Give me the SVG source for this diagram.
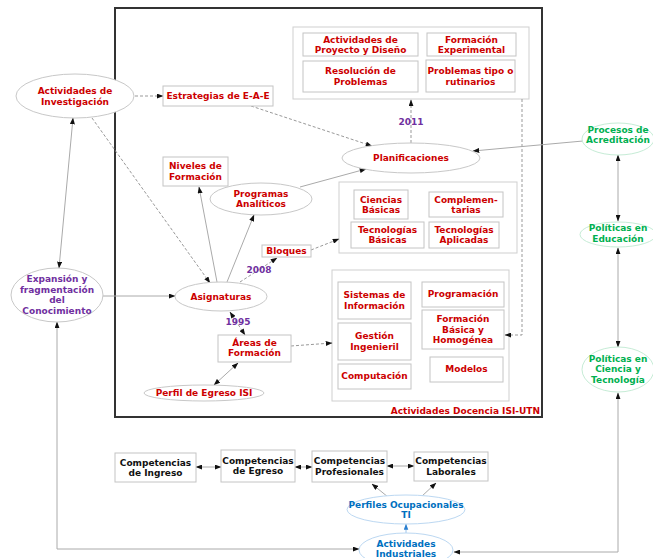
<svg xmlns="http://www.w3.org/2000/svg" width="653" height="558" viewBox="0 0 653 558">
<defs>
<marker id="ah" viewBox="0 0 8 6" refX="7.5" refY="3" markerWidth="7" markerHeight="5" markerUnits="userSpaceOnUse" orient="auto-start-reverse"><path d="M0,0 L8,3 L0,6 z" fill="#111"/></marker>
<marker id="ahb" viewBox="0 0 8 6" refX="7.5" refY="3" markerWidth="6" markerHeight="5" markerUnits="userSpaceOnUse" orient="auto-start-reverse"><path d="M0,0 L8,3 L0,6 z" fill="#2a7fd0"/></marker>
</defs>
<style>
text{font-family:"DejaVu Sans",Verdana,sans-serif;font-weight:bold;font-size:9px;text-anchor:middle}
.r{fill:#cc0000}.p{fill:#7030a0}.g{fill:#00b050}.b{fill:#0070c0}.k{fill:#111}
.box{fill:#fff;stroke:#c4c4c4;stroke-width:1}
.grp{fill:#fff;stroke:#cfcfcf;stroke-width:1}
.el{fill:#fff;stroke:#c8c8c8;stroke-width:1}
.elg{fill:#fff;stroke:#c6ecd6;stroke-width:1}
.elb{fill:#fff;stroke:#bcd8f2;stroke-width:1}
.s{fill:none;stroke:#aaa;stroke-width:1}
.d{fill:none;stroke:#999;stroke-width:1;stroke-dasharray:3,2}
.e{marker-end:url(#ah)}
.bo{marker-start:url(#ah);marker-end:url(#ah)}
</style>
<rect width="653" height="558" fill="#fff"/>
<g id="frame">
<rect x="115" y="8" width="427" height="409" fill="#fff" stroke="#333" stroke-width="2"/>
<text class="r" x="540" y="414" style="text-anchor:end">Actividades Docencia ISI-UTN</text>
</g>
<g id="grp-top"><rect class="grp" x="293" y="27" width="236" height="72"/></g>
<g id="grp-mid"><rect class="grp" x="339" y="182" width="178" height="71"/></g>
<g id="grp-low"><rect class="grp" x="332" y="270" width="177" height="131"/></g>
<g id="connectors">
<path class="d e" d="M135,96 L163,96"/>
<path class="d e" d="M251,106 L372,146"/>
<path class="s bo" d="M73,118 L59,268"/>
<path class="d e" d="M92,118 L210,283"/>
<path class="s e" d="M103,296 L175,296"/>
<path class="s bo" d="M57,322 L57,549 L359,549"/>
<path class="s e" d="M217,282 L199,187"/>
<path class="s e" d="M227,282 L254,215"/>
<path class="s e" d="M300,187 L366,169"/>
<path class="d e" d="M240,282 L277,258"/>
<path class="d e" d="M311,250 L339,239"/>
<path class="d e" d="M411,143 L411,100"/>
<path class="d e" d="M522,99 L522,335 L505,335"/>
<path class="s e" d="M583,141 L473,151"/>
<path class="s bo" d="M618,155 L618,221"/>
<path class="s bo" d="M618,248 L618,347"/>
<path class="s bo" d="M618,393 L618,552 L454,552"/>
<path class="d bo" d="M230,312 L245,335"/>
<path class="d e" d="M291,346 L332,343"/>
<path class="s bo" d="M238,363 L214,385"/>
<path class="s bo" d="M196,467 L221,467"/>
<path class="s bo" d="M295,467 L312,467"/>
<path class="s bo" d="M387,466 L414,466"/>
<path class="s e" d="M388,497 L372,484"/>
<path class="s e" d="M421,497 L436,483"/>
<path fill="none" stroke="#9cc4ea" stroke-width="1" marker-end="url(#ahb)" d="M406,533 L406,524"/>
</g>
<g id="inv"><ellipse class="el" cx="75" cy="96" rx="59" ry="22"/><text class="r" x="75" y="94">Actividades de</text><text class="r" x="75" y="104.5">Investigación</text></g>
<g id="estrategias"><rect class="box" x="163" y="86" width="110" height="20"/><text class="r" x="218" y="99.3">Estrategias de E-A-E</text></g>
<g id="proyecto"><rect class="box" x="303" y="33" width="115" height="23"/><text class="r" x="360.5" y="42.5">Actividades de</text><text class="r" x="360.5" y="53">Proyecto y Diseño</text></g>
<g id="experimental"><rect class="box" x="427" y="33" width="89" height="23"/><text class="r" x="471.5" y="42.5">Formación</text><text class="r" x="471.5" y="53">Experimental</text></g>
<g id="resolucion"><rect class="box" x="303" y="61" width="115" height="31"/><text class="r" x="360.5" y="74">Resolución de</text><text class="r" x="360.5" y="85">Problemas</text></g>
<g id="rutinarios"><rect class="box" x="426" y="60" width="89" height="32"/><text class="r" x="470.5" y="74">Problemas tipo o</text><text class="r" x="470.5" y="85">rutinarios</text></g>
<g id="y2011"><text class="p" x="411" y="124.5">2011</text></g>
<g id="planificaciones"><ellipse class="el" cx="411" cy="158" rx="69" ry="15"/><text class="r" x="411" y="161.3">Planificaciones</text></g>
<g id="acreditacion"><ellipse class="elg" cx="618" cy="139" rx="36" ry="16"/><text class="g" x="618" y="132.5">Procesos de</text><text class="g" x="618" y="143.3">Acreditación</text></g>
<g id="niveles"><rect class="box" x="163" y="157" width="65" height="29"/><text class="r" x="195.5" y="169.3">Niveles de</text><text class="r" x="195.5" y="180">Formación</text></g>
<g id="programas"><ellipse class="el" cx="261" cy="199" rx="51" ry="16"/><text class="r" x="261" y="196.6">Programas</text><text class="r" x="261" y="206.6">Analíticos</text></g>
<g id="ciencias"><rect class="box" x="354" y="190" width="54" height="29"/><text class="r" x="381" y="202.6">Ciencias</text><text class="r" x="381" y="213.3">Básicas</text></g>
<g id="complementarias"><rect class="box" x="429" y="192" width="74" height="25"/><text class="r" x="466" y="202.6">Complemen-</text><text class="r" x="466" y="213.3">tarias</text></g>
<g id="tecbasicas"><rect class="box" x="351" y="222" width="73" height="26"/><text class="r" x="387.5" y="232.6">Tecnologías</text><text class="r" x="387.5" y="243.3">Básicas</text></g>
<g id="tecaplicadas"><rect class="box" x="429" y="222" width="70" height="26"/><text class="r" x="464" y="232.6">Tecnologías</text><text class="r" x="464" y="243.3">Aplicadas</text></g>
<g id="bloques"><rect class="box" x="262" y="245" width="49" height="12"/><text class="r" x="286.5" y="254.3">Bloques</text></g>
<g id="y2008"><text class="p" x="259" y="273.3">2008</text></g>
<g id="educacion"><ellipse class="elg" cx="618" cy="234.5" rx="38" ry="12.5"/><text class="g" x="618" y="231">Políticas en</text><text class="g" x="618" y="241.6">Educación</text></g>
<g id="expansion"><ellipse class="el" cx="57" cy="295" rx="46" ry="27"/><text class="p" x="57" y="282.3">Expansión y</text><text class="p" x="57" y="293">fragmentación</text><text class="p" x="57" y="303.3">del</text><text class="p" x="57" y="314">Conocimiento</text></g>
<g id="asignaturas"><ellipse class="el" cx="221" cy="296.5" rx="46" ry="14.5"/><text class="r" x="221" y="299.6">Asignaturas</text></g>
<g id="sistemas"><rect class="box" x="338" y="282" width="73" height="37"/><text class="r" x="374.5" y="298.3">Sistemas de</text><text class="r" x="374.5" y="309">Información</text></g>
<g id="gestion"><rect class="box" x="338" y="323" width="73" height="37"/><text class="r" x="374.5" y="339">Gestión</text><text class="r" x="374.5" y="350">Ingenieril</text></g>
<g id="computacion"><rect class="box" x="338" y="364" width="73" height="25"/><text class="r" x="374.5" y="379.3">Computación</text></g>
<g id="programacion"><rect class="box" x="422" y="282" width="82" height="25"/><text class="r" x="463" y="297.3">Programación</text></g>
<g id="formbasica"><rect class="box" x="422" y="310" width="82" height="39"/><text class="r" x="463" y="322">Formación</text><text class="r" x="463" y="332.6">Básica y</text><text class="r" x="463" y="343.3">Homogénea</text></g>
<g id="modelos"><rect class="box" x="430" y="357" width="73" height="25"/><text class="r" x="466.5" y="372.3">Modelos</text></g>
<g id="y1995"><text class="p" x="238" y="325.3">1995</text></g>
<g id="areas"><rect class="box" x="218" y="335" width="73" height="27"/><text class="r" x="254.5" y="345.6">Áreas de</text><text class="r" x="254.5" y="356">Formación</text></g>
<g id="perfilegreso"><ellipse class="el" cx="204" cy="393" rx="60" ry="8"/><text class="r" x="204" y="396">Perfil de Egreso ISI</text></g>
<g id="cienciatec"><ellipse class="elg" cx="618" cy="369.5" rx="36" ry="22.5"/><text class="g" x="618" y="361.6">Políticas en</text><text class="g" x="618" y="372.3">Ciencia y</text><text class="g" x="618" y="383">Tecnología</text></g>
<g id="compingreso"><rect class="box" x="115" y="453" width="81" height="29"/><text class="k" x="155.5" y="465.6">Competencias</text><text class="k" x="155.5" y="475.6">de Ingreso</text></g>
<g id="compegreso"><rect class="box" x="221" y="450" width="74" height="32"/><text class="k" x="258" y="464.3">Competencias</text><text class="k" x="258" y="474.3">de Egreso</text></g>
<g id="compprof"><rect class="box" x="312" y="451" width="75" height="31"/><text class="k" x="349.5" y="464.3">Competencias</text><text class="k" x="349.5" y="475">Profesionales</text></g>
<g id="complab"><rect class="box" x="414" y="452" width="74" height="29"/><text class="k" x="451" y="464.3">Competencias</text><text class="k" x="451" y="475">Laborales</text></g>
<g id="perfiles"><ellipse class="elb" cx="406" cy="509.5" rx="59" ry="14.5"/><text class="b" x="406" y="507.6">Perfiles Ocupacionales</text><text class="b" x="406" y="518.3">TI</text></g>
<g id="industriales"><ellipse class="elb" cx="406" cy="550" rx="47" ry="17"/><text class="b" x="406" y="546.6">Actividades</text><text class="b" x="406" y="557.3">Industriales</text></g>
</svg>
